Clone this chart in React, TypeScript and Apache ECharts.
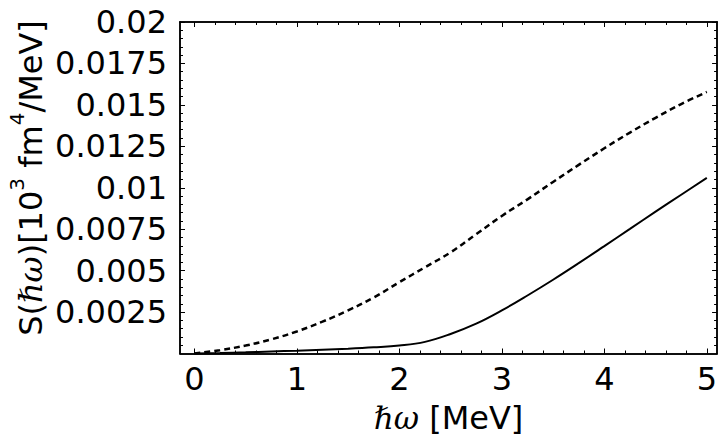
import React, { useEffect, useRef } from "react";
import * as echarts from "echarts";

const xValues = [0, 0.25, 0.5, 0.75, 1, 1.25, 1.5, 1.75, 2, 2.25, 2.5, 2.75, 3, 3.25, 3.5, 3.75, 4, 4.25, 4.5, 4.75, 5];
const dashedValues = [0, 0.0002, 0.00048, 0.00085, 0.00133, 0.00192, 0.0026, 0.00338, 0.0043, 0.0052, 0.0061, 0.0072, 0.0083, 0.0093, 0.01035, 0.01138, 0.01238, 0.01333, 0.01422, 0.01505, 0.01578];
const solidValues = [0, 0.00003, 0.00007, 0.00012, 0.00017, 0.00023, 0.00029, 0.00037, 0.00048, 0.0007, 0.00118, 0.0018, 0.0026, 0.0035, 0.00445, 0.00545, 0.00648, 0.00752, 0.00856, 0.00958, 0.0106];

const xMajorTicks = [0, 1, 2, 3, 4, 5];
const yMajorTicks = [0.0025, 0.005, 0.0075, 0.01, 0.0125, 0.015, 0.0175, 0.02];
const yTickLabels = ["0.0025", "0.005", "0.0075", "0.01", "0.0125", "0.015", "0.0175", "0.02"];

const X_MIN = -0.14;
const X_MAX = 5.1;
const Y_MIN = 0;
const Y_MAX = 0.02;

const xMinorTicks: number[] = [];
for (let i = 1; i <= 25; i++) {
  if (i % 5 !== 0) xMinorTicks.push(Math.round(i * 0.2 * 100) / 100);
}
const yMinorTicks: number[] = [];
for (let i = 1; i < 40; i++) {
  if (i % 5 !== 0) yMinorTicks.push(Math.round(i * 0.0005 * 10000) / 10000);
}

const FONT = "DejaVu Sans";
const lineStyle = { color: "#000", width: 1.5 };

function makeX(position: "bottom" | "top", ticks: number[], len: number, labels: boolean, name?: boolean) {
  const ax: any = {
    type: "value",
    min: X_MIN,
    max: X_MAX,
    position,
    axisLine: { show: true, onZero: false, lineStyle },
    axisTick: { show: true, inside: true, length: len, customValues: ticks, lineStyle: { color: "#000", width: 1 } },
    axisLabel: labels
      ? {
          show: true,
          customValues: ticks,
          fontSize: 32,
          fontFamily: FONT,
          color: "#000",
          margin: 9,
          formatter: (v: number) => String(v),
        }
      : { show: false },
    splitLine: { show: false },
  };
  if (name) {
    ax.name = "{i|ℏω}{a| [MeV]}";
    ax.nameLocation = "middle";
    ax.nameGap = 48;
    ax.nameTextStyle = {
      rich: {
        i: { fontFamily: "DejaVu Serif", fontStyle: "italic", fontSize: 31, color: "#000" },
        a: { fontFamily: FONT, fontSize: 32, color: "#000" },
      },
    };
  }
  return ax;
}

function makeY(position: "left" | "right", ticks: number[], len: number, labels: boolean) {
  return {
    type: "value",
    min: Y_MIN,
    max: Y_MAX,
    position,
    axisLine: { show: true, onZero: false, lineStyle },
    axisTick: { show: true, inside: true, length: len, customValues: ticks, lineStyle: { color: "#000", width: 1 } },
    axisLabel: labels
      ? {
          show: true,
          customValues: ticks,
          fontSize: 32,
          fontFamily: FONT,
          color: "#000",
          margin: 13,
          formatter: (v: number) => {
            const idx = yMajorTicks.findIndex((t) => Math.abs(t - v) < 1e-9);
            return idx >= 0 ? yTickLabels[idx] : "";
          },
        }
      : { show: false },
    splitLine: { show: false },
  };
}

export default function App() {
  const ref = useRef<HTMLDivElement>(null);
  useEffect(() => {
    if (!ref.current) return;
    const chart = echarts.init(ref.current, null, { renderer: "svg" });
    const option: any = {
      animation: false,
      backgroundColor: "#fff",
      grid: { left: 180, right: 2, top: 22, bottom: 91.5, containLabel: false },
      xAxis: [
        makeX("bottom", xMajorTicks, 5, true, true),
        makeX("bottom", xMinorTicks, 3, false),
        makeX("top", xMajorTicks, 5, false),
        makeX("top", xMinorTicks, 3, false),
      ],
      yAxis: [
        makeY("left", yMajorTicks, 5, true),
        makeY("left", yMinorTicks, 3, false),
        makeY("right", yMajorTicks, 5, false),
        makeY("right", yMinorTicks, 3, false),
      ],
      graphic: [
        {
          type: "text",
          x: 27,
          y: 178,
          rotation: Math.PI / 2,
          style: {
            text: "{a|S(}{i|ℏω}{a|)[10}{s|3}{a| fm}{s|4}{a|/MeV]}",
            align: "center",
            verticalAlign: "middle",
            rich: {
              a: { fontFamily: FONT, fontSize: 32, lineHeight: 40, fill: "#000", verticalAlign: "bottom" },
              i: { fontFamily: "DejaVu Serif", fontStyle: "italic", fontSize: 32, lineHeight: 40, fill: "#000", verticalAlign: "bottom" },
              s: { fontFamily: FONT, fontSize: 20, lineHeight: 20, fill: "#000", verticalAlign: "top" },
            },
          },
        },
      ],
      series: [
        {
          type: "line",
          xAxisIndex: 0,
          yAxisIndex: 0,
          data: xValues.map((x, i) => [x, dashedValues[i]]),
          smooth: 0.4,
          showSymbol: false,
          lineStyle: { color: "#000", width: 2.5, type: [6, 4] },
        },
        {
          type: "line",
          xAxisIndex: 0,
          yAxisIndex: 0,
          data: xValues.map((x, i) => [x, solidValues[i]]),
          smooth: 0.4,
          showSymbol: false,
          lineStyle: { color: "#000", width: 2 },
        },
      ],
    };
    chart.setOption(option);
    return () => chart.dispose();
  }, []);
  return (
    <div
      ref={ref}
      style={{ position: "fixed", left: 0, top: 0, width: 720, height: 445, background: "#fff" }}
    />
  );
}
